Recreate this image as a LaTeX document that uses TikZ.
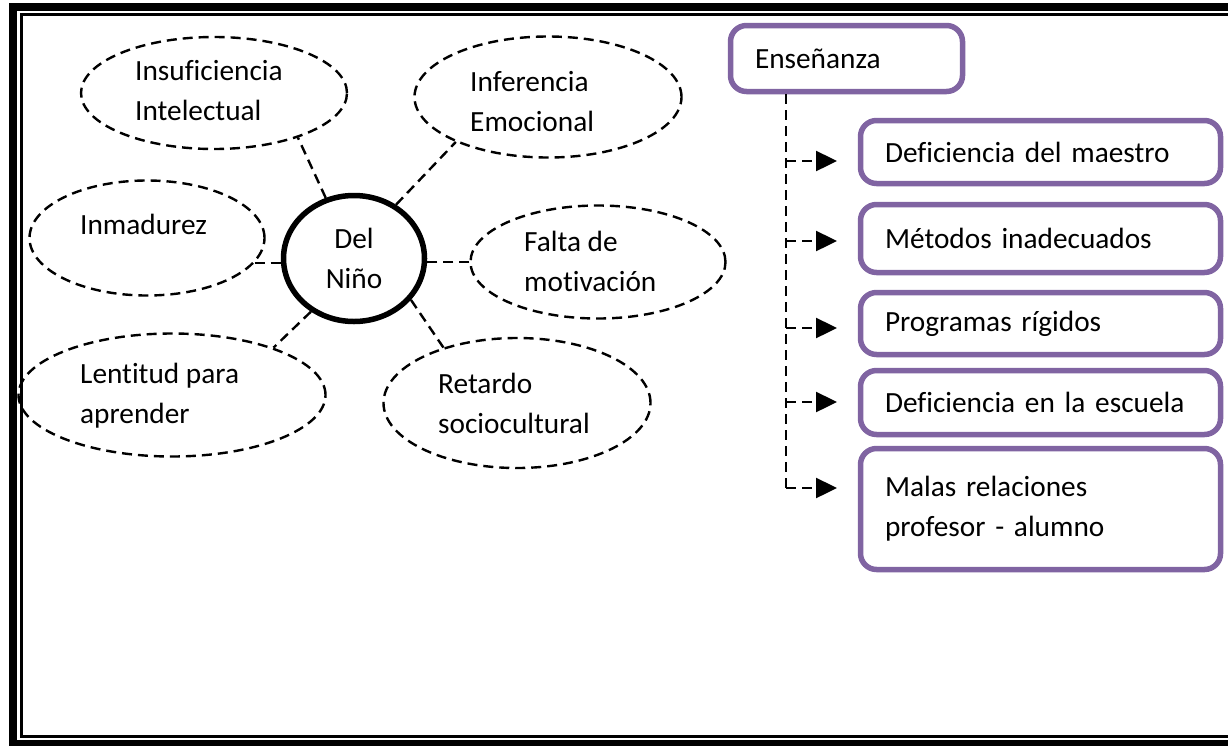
\documentclass[tikz,border=0pt]{standalone}
\usepackage{fontspec}
\setmainfont{Carlito}[Ligatures=NoCommon]
\usetikzlibrary{shapes.geometric, positioning, arrows.meta}
\definecolor{boxpurple}{HTML}{8064A2}

\begin{document}
\begin{tikzpicture}[x=1pt, y=-1pt,
  font=\fontsize{29.3}{40}\selectfont,
  bubble/.style={ellipse, draw, line width=2.4pt, dash pattern=on 10pt off 6pt},
  txt/.style={align=left, inner sep=0pt, anchor=west},
  conn/.style={line width=2.4pt, dash pattern=on 10pt off 6pt},
  arr/.style={conn, -{Triangle[length=21pt,width=20pt]}},
  box/.style={draw=boxpurple, line width=5.5pt, rounded corners=16pt,
    align=left, inner xsep=24.5pt, inner ysep=0pt}]
\useasboundingbox (0,0) rectangle (1228,745);
\draw[line width=8pt] (13,6.5) rectangle (1240,744);
\draw[line width=3pt] (21.5,14.5) rectangle (1231,736);

\node[ellipse, draw, line width=5.5pt, align=center, minimum width=141pt,
  minimum height=126pt] (nino) at (354,258.5) {Del\\Niño};
\node[bubble, minimum width=266pt, minimum height=112pt] (e1) at (214,93) {};
\node[bubble, minimum width=267pt, minimum height=121pt] (e2) at (548,97) {};
\node[bubble, minimum width=235pt, minimum height=115pt] (e3) at (147,238) {};
\node[bubble, minimum width=255pt, minimum height=113pt] (e4) at (598,262) {};
\node[bubble, minimum width=307pt, minimum height=123pt] (e5) at (172,395) {};
\node[bubble, minimum width=267pt, minimum height=130pt] (e6) at (517,403) {};
\node[txt] (t1) at (135,91) {Insuficiencia\\Intelectual};
\node[txt] (t2) at (470,101.5) {Inferencia\\Emocional};
\node[txt] (t3) at (80,224) {Inmadurez};
\node[txt] (t4) at (524,261.5) {Falta de\\motivación};
\node[txt] (t5) at (80,396) {Lentitud para\\aprender};
\node[txt] (t6) at (438,403.5) {Retardo\\sociocultural};
\draw[conn] (nino.115) -- (e1.-28);
\draw[conn] (nino.52) -- (e2.206);
\draw[conn] (e3.-13) -- (e3.-13 -| nino.west);
\draw[conn] (e4.west) -- (e4.west -| nino.east);
\draw[conn] (nino.231) -- (e5.25);
\draw[conn] (nino.-36) -- (e6.143);

\node[box, text width=183pt, minimum height=66pt] (ens) at (846.5,58.5) {Enseñanza};
\node[box, text width=311pt, minimum height=63pt] (d1) at (1040.5,152) {Deficiencia del maestro};
\node[box, text width=311pt, minimum height=68pt] (d2) at (1040.5,238.5) {Métodos inadecuados};
\node[box, text width=311pt, minimum height=62pt] (d3) at (1040.5,323.5) {Programas rígidos};
\node[box, text width=311pt, minimum height=64pt] (d4) at (1040.5,402.5) {Deficiencia en la escuela};
\node[box, text width=311pt, minimum height=121pt] (d5) at (1040.5,509) {Malas relaciones\\profesor - alumno};

\coordinate (tr) at (786,488);
\coordinate (a1) at (837,161);
\coordinate (a2) at (837,241);
\coordinate (a3) at (837,328);
\coordinate (a4) at (837,402);
\coordinate (a5) at (837,488);
\draw[conn] (ens.south -| tr) -- (tr);
\draw[arr] (a1 -| tr) -- (a1);
\draw[arr] (a2 -| tr) -- (a2);
\draw[arr] (a3 -| tr) -- (a3);
\draw[arr] (a4 -| tr) -- (a4);
\draw[arr] (a5 -| tr) -- (a5);
\end{tikzpicture}
\end{document}
